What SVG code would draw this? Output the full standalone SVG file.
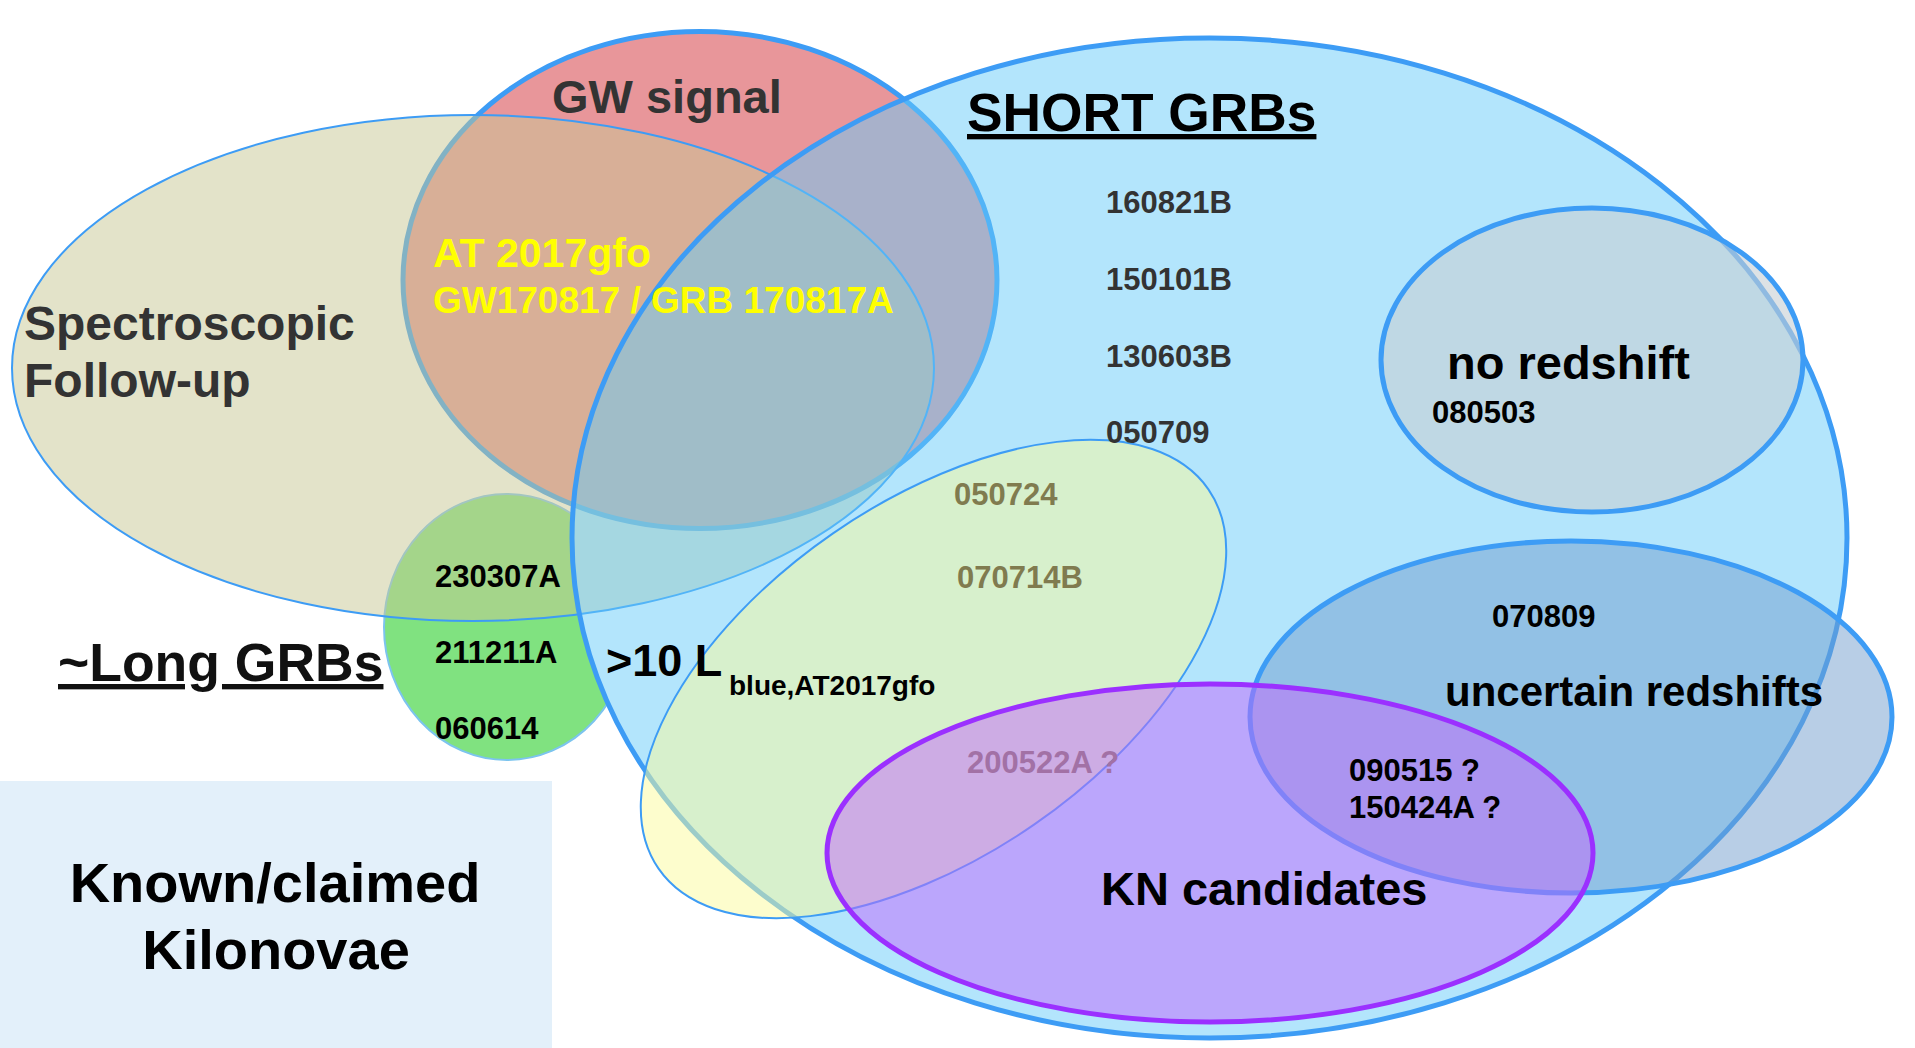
<svg xmlns="http://www.w3.org/2000/svg" width="1915" height="1048" viewBox="0 0 1915 1048">
<style>
  text { font-family: "Liberation Sans", Arial, sans-serif; font-weight: bold; }
  .thick { stroke: #3d9cf5; stroke-width: 5; }
  .thin { stroke: #3d9cf5; stroke-width: 2; }
  .id { font-size: 31px; fill: #000; }
  .idg { font-size: 31px; fill: #333; }
  .olive { font-size: 31px; fill: #807b4f; }
  .yel { fill: #ffff00; }
</style>
<defs>
  <clipPath id="outsideShort">
    <path clip-rule="evenodd" d="M0 0H1915V1048H0Z M572 538 A637.5 500 0 1 0 1847 538 A637.5 500 0 1 0 572 538Z"/>
  </clipPath>
</defs>
<rect width="1915" height="1048" fill="#ffffff"/>

<g id="node-legend">
  <rect x="0" y="781" width="552" height="267" fill="#e3f0fa"/>
  <text x="275" y="902" font-size="56" text-anchor="middle" fill="#000">Known/claimed</text>
  <text x="276" y="969" font-size="56" text-anchor="middle" fill="#000">Kilonovae</text>
</g>

<g id="node-gw">
  <ellipse cx="700" cy="280" rx="297" ry="248.5" fill="#e8969a" class="thick"/>
</g>

<g id="node-long">
  <ellipse cx="507" cy="627" rx="123" ry="133" fill="#80e280" stroke="#7cc4ee" stroke-width="2" clip-path="url(#outsideShort)"/>
</g>

<g id="node-spectroscopic">
  <ellipse cx="473" cy="368" rx="461" ry="253" fill="#c7c793" fill-opacity="0.5" class="thin"/>
</g>

<g id="node-short">
  <ellipse cx="1209.5" cy="538" rx="637.5" ry="500" fill="#67cbf9" fill-opacity="0.5" class="thick"/>
</g>

<g id="node-noredshift">
  <ellipse cx="1592" cy="360" rx="211" ry="152" fill="#c6cfd4" fill-opacity="0.6" class="thick"/>
</g>

<g id="node-uncertain">
  <ellipse cx="1571" cy="717" rx="321" ry="176" fill="#719dcd" fill-opacity="0.5" class="thick"/>
</g>

<g id="node-lblue">
  <ellipse cx="0" cy="0" rx="334" ry="177" transform="translate(933.5 679) rotate(-34.6)" fill="#fbfb9b" fill-opacity="0.5" class="thin"/>
  <text x="967" y="773" class="olive">200522A ?</text>
</g>

<g id="node-kn">
  <ellipse cx="1210" cy="853" rx="383" ry="169" fill="#c367fc" fill-opacity="0.5" stroke="#9b30ff" stroke-width="5"/>
</g>

<g id="connectors"></g>

<g id="label-gw">
  <text x="552" y="113" font-size="47" fill="#333">GW signal</text>
  <text x="433" y="267" font-size="41" class="yel">AT 2017gfo</text>
  <text x="433" y="313" font-size="37" class="yel">GW170817 / GRB 170817A</text>
</g>

<g id="label-spectroscopic">
  <text x="24" y="340" font-size="48" fill="#333">Spectroscopic</text>
  <text x="24" y="397" font-size="48" fill="#333">Follow-up</text>
</g>

<g id="label-long">
  <text x="58" y="681" font-size="53.5" fill="#111" text-decoration="underline">~Long GRBs</text>
  <text x="435" y="587" class="id">230307A</text>
  <text x="435" y="663" class="id">211211A</text>
  <text x="435" y="739" class="id">060614</text>
</g>

<g id="label-short">
  <text x="967" y="131" font-size="53.3" fill="#000" text-decoration="underline">SHORT GRBs</text>
  <text x="1106" y="213" class="idg">160821B</text>
  <text x="1106" y="290" class="idg">150101B</text>
  <text x="1106" y="367" class="idg">130603B</text>
  <text x="1106" y="443" class="idg">050709</text>
</g>

<g id="label-lblue">
  <text x="606" y="676" font-size="45" fill="#000">&gt;10 L<tspan x="729" y="695" font-size="28">blue,AT2017gfo</tspan></text>
  <text x="954" y="505" class="olive">050724</text>
  <text x="957" y="588" class="olive">070714B</text>
</g>

<g id="label-noredshift">
  <text x="1447" y="379" font-size="47" fill="#000">no redshift</text>
  <text x="1432" y="423" class="id">080503</text>
</g>

<g id="label-uncertain">
  <text x="1492" y="627" class="id">070809</text>
  <text x="1445" y="706" font-size="42" fill="#000">uncertain redshifts</text>
</g>

<g id="label-kn">
  <text x="1349" y="781" class="id">090515 ?</text>
  <text x="1349" y="818" class="id">150424A ?</text>
  <text x="1101" y="905" font-size="47" fill="#000">KN candidates</text>
</g>
</svg>
